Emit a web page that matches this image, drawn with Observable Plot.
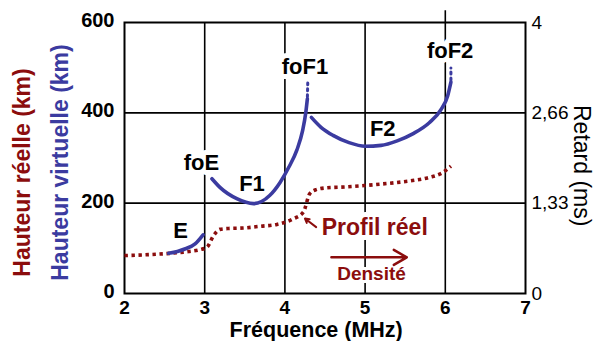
<!DOCTYPE html>
<html>
<head>
<meta charset="utf-8">
<script src="https://cdn.jsdelivr.net/npm/d3@7"></script>
<script src="https://cdn.jsdelivr.net/npm/@observablehq/plot@0.6"></script>
<style>
  html, body { margin: 0; padding: 0; background: #fff; }
  #chart svg { display: block; }
</style>
</head>
<body>
<div id="chart"></div>
<script>
// ---- data ----
const xTicks = [2, 3, 4, 5, 6, 7];
const yTicks = [0, 200, 400, 600];
const retardLabels = ["0", "1,33", "2,66", "4"];
const gridX = [3, 4, 5, 6];
const gridY = [200, 400];

// virtual height (blue), E layer
const eX = [2.55, 2.66, 2.76, 2.88, 2.98];
const eY = [89, 93, 99, 110, 130];
// F1 layer
const f1X = [3.09, 3.19, 3.40, 3.61, 3.81, 3.94, 4.05, 4.15, 4.22, 4.26, 4.28];
const f1Y = [254, 235, 210, 199, 217, 246, 280, 318, 360, 400, 431];
const f1DotX = [4.28, 4.285];
const f1DotY = [431, 466];
// F2 layer
const f2X = [4.33, 4.45, 4.60, 4.80, 5.00, 5.20, 5.40, 5.60, 5.80, 5.95, 6.03, 6.07];
const f2Y = [390, 368, 350, 334, 326, 328, 338, 354, 378, 408, 438, 468];
const f2DotX = [6.07, 6.07];
const f2DotY = [468, 499];

// real profile (dark red, dotted)
const profX = [2.00, 2.30, 2.57, 2.80, 2.94, 3.03, 3.11, 3.19, 3.30, 3.48, 3.70, 3.90, 4.10, 4.23, 4.31, 4.39, 4.52, 4.75, 4.99, 5.30, 5.59, 5.80, 5.97, 6.07];
const profY = [84, 86, 89, 93, 97, 103, 128, 142, 144, 145, 149, 153, 165, 180, 221, 230, 234, 236, 239, 244, 250, 257, 268, 282];

// annotations
const labelText = ["foE", "E", "F1", "foF1", "F2", "foF2"];
const labelX = [2.96, 2.70, 3.59, 4.25, 5.22, 6.06];
const labelY = [290, 139, 243, 501, 365, 538];

const profLabel = ["Profil réel"];
const profLabelX = [5.12];
const profLabelY = [145];
const densLabel = ["Densité"];
const densLabelX = [5.08];
const densLabelY = [44];
// arrows: [x1, y1, x2, y2]
const densArrow = [[4.58, 80, 5.52, 80]];
const profArrow = [[4.39, 147, 4.25, 166]];

// axis titles: text, x, y (data units, outside the frame)
const titleText = ["Fréquence (MHz)", "Hauteur réelle (km)", "Hauteur virtuelle (km)", "Retard (ms)"];
const titleX = [4.39, 0.73, 1.20, 7.70];
const titleY = [-80, 268, 290, 283];

const BLUE = "#3b3ba0";
const RED = "#8b0d0d";
const FONT = "Liberation Sans, Arial, Helvetica, sans-serif";

const toPts = (xs, ys) => xs.map((x, i) => ({x, y: ys[i]}));
const labels = labelText.map((t, i) => ({t, x: labelX[i], y: labelY[i]}));

const chart = Plot.plot({
  width: 595,
  height: 341,
  marginLeft: 124,
  marginRight: 70,
  marginTop: 22,
  marginBottom: 48,
  style: {fontFamily: FONT, background: "#fff", overflow: "visible"},
  x: {domain: [2, 7]},
  y: {domain: [0, 600]},
  marks: [
    // grid
    Plot.ruleX(gridX, {stroke: "#000", strokeWidth: 1.6}),
    Plot.ruleY(gridY, {stroke: "#000", strokeWidth: 1.6}),
    Plot.ruleX([6], {y1: 600, y2: 626, stroke: "#000", strokeWidth: 1.6}),
    Plot.frame({stroke: "#000", strokeWidth: 2}),
    // axes
    Plot.axisX({ticks: xTicks, tickSize: 0, tickPadding: 7, fontSize: 19, fontWeight: "bold", label: null, fill: "#000", tickFormat: (d) => String(d)}),
    Plot.axisY({ticks: yTicks, tickSize: 0, tickPadding: 10, fontSize: 20, fontWeight: "bold", label: null, fill: "#000", dy: -2}),
    Plot.axisY({anchor: "right", ticks: yTicks, tickSize: 0, tickPadding: 6, fontSize: 19,
      tickFormat: (d) => retardLabels[yTicks.indexOf(d)], label: null, fill: "#000"}),
    // axis titles
    Plot.text([titleText[0]], {x: [titleX[0]], y: [titleY[0]], fontSize: 21.5, fontWeight: "bold", fill: "#000"}),
    Plot.text([titleText[1]], {x: [titleX[1]], y: [titleY[1]], rotate: -90, fontSize: 23, fontWeight: "bold", fill: RED}),
    Plot.text([titleText[2]], {x: [titleX[2]], y: [titleY[2]], rotate: -90, fontSize: 23, fontWeight: "bold", fill: BLUE}),
    Plot.text([titleText[3]], {x: [titleX[3]], y: [titleY[3]], rotate: 90, fontSize: 23, fill: "#000"}),
    // annotations with white halo (label boxes)
    Plot.text(labels, {x: "x", y: "y", text: "t", fontSize: 22, fontWeight: "bold", fill: "#000", stroke: "#fff", strokeWidth: 10}),
    Plot.text(profLabel, {x: profLabelX, y: profLabelY, fontSize: 23, fontWeight: "bold", fill: RED, stroke: "#fff", strokeWidth: 10}),
    Plot.text(densLabel, {x: densLabelX, y: densLabelY, fontSize: 19, fontWeight: "bold", fill: RED, stroke: "#fff", strokeWidth: 6}),
    // real profile
    Plot.line(toPts(profX, profY), {x: "x", y: "y", curve: "monotone-x", stroke: RED, strokeWidth: 3.6, strokeDasharray: "3.4,3.6", strokeLinecap: "butt"}),
    // virtual height curves
    Plot.line(toPts(eX, eY), {x: "x", y: "y", curve: "monotone-x", stroke: BLUE, strokeWidth: 3.6, strokeLinecap: "round"}),
    Plot.line(toPts(f1X, f1Y), {x: "x", y: "y", curve: "monotone-x", stroke: BLUE, strokeWidth: 3.6, strokeLinecap: "round"}),
    Plot.line(toPts(f1DotX, f1DotY), {x: "x", y: "y", stroke: BLUE, strokeWidth: 3, strokeDasharray: "2,4", strokeDashoffset: 4}),
    Plot.line(toPts(f2X, f2Y), {x: "x", y: "y", curve: "monotone-x", stroke: BLUE, strokeWidth: 3.6, strokeLinecap: "round"}),
    Plot.line(toPts(f2DotX, f2DotY), {x: "x", y: "y", stroke: BLUE, strokeWidth: 3, strokeDasharray: "2,4", strokeDashoffset: 4}),
    // arrows
    Plot.arrow(densArrow, {x1: (d) => d[0], y1: (d) => d[1], x2: (d) => d[2], y2: (d) => d[3], stroke: RED, strokeWidth: 2.5, headLength: 9}),
    Plot.arrow(profArrow, {x1: (d) => d[0], y1: (d) => d[1], x2: (d) => d[2], y2: (d) => d[3], stroke: RED, strokeWidth: 2, headLength: 6})
  ]
});
document.getElementById("chart").appendChild(chart);
</script>
</body>
</html>
